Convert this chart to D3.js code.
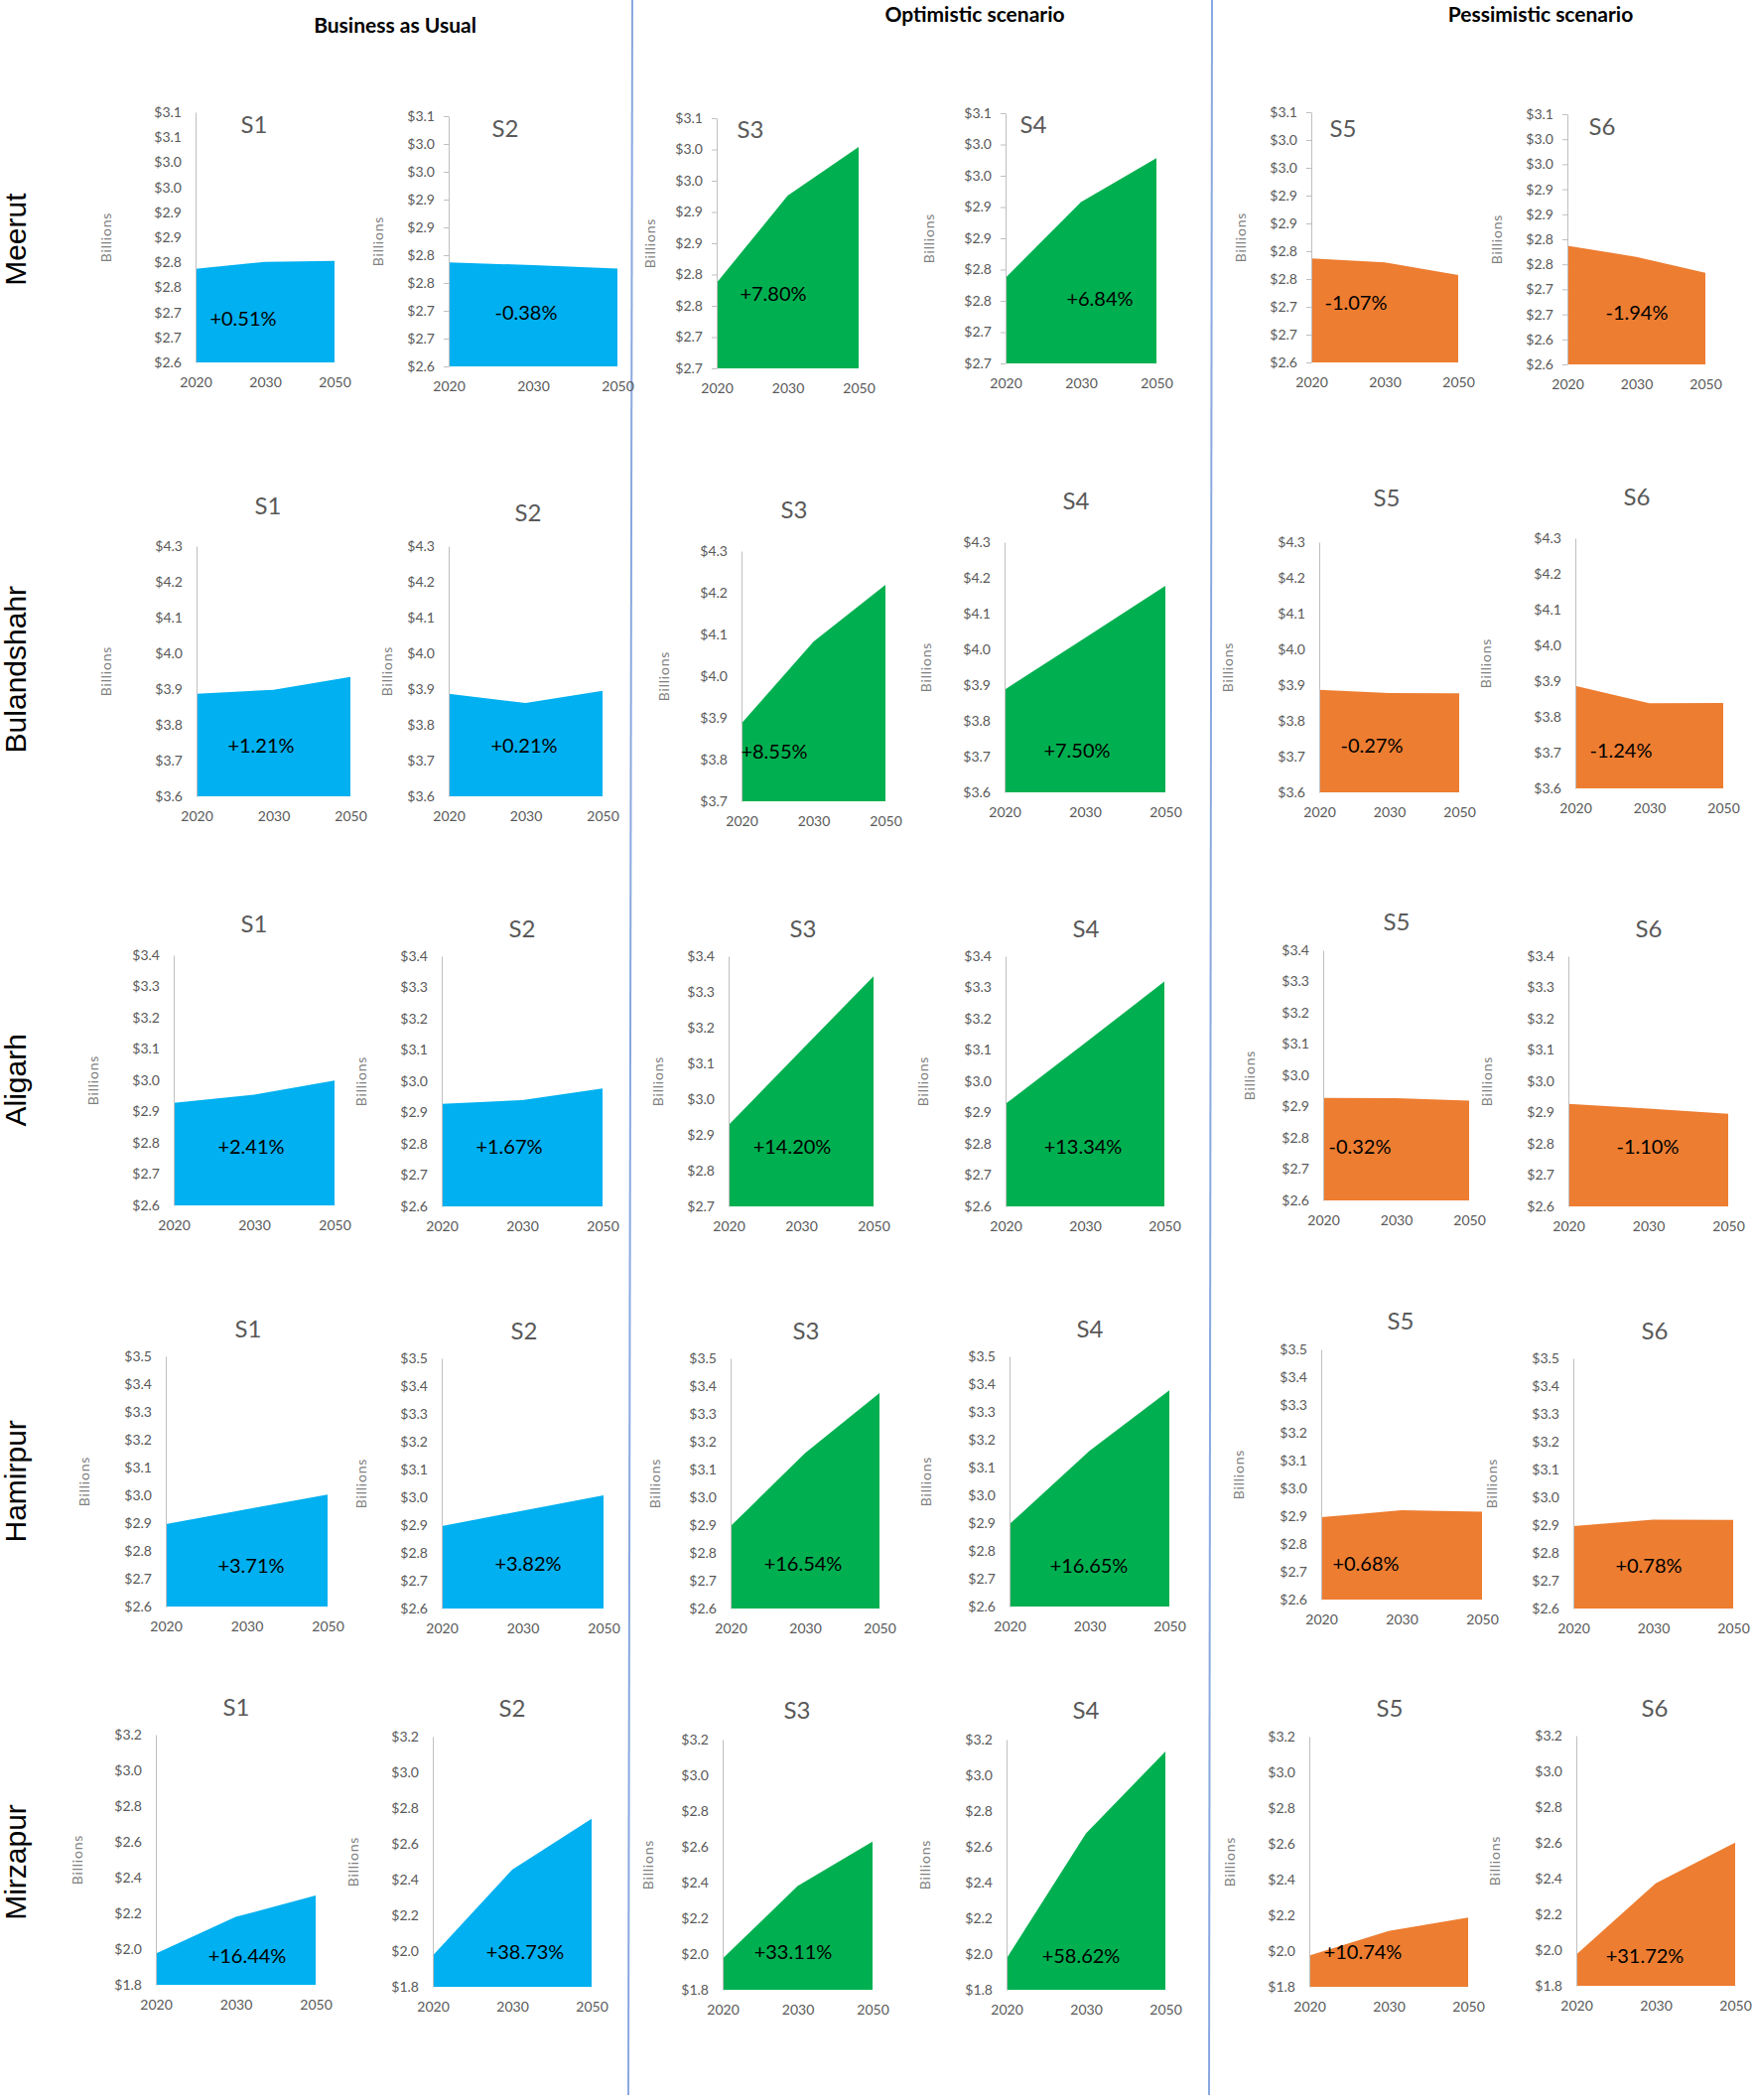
<!DOCTYPE html>
<html>
<head>
<meta charset="utf-8">
<script src="https://cdn.jsdelivr.net/npm/d3@7"></script>
<style>
  body { margin: 0; background: #fff; }
  svg { display: block; }
</style>
</head>
<body>
<div id="chart"></div>
<script>
// ---- data ----
const cities = ["Meerut", "Bulandshahr", "Aligarh", "Hamirpur", "Mirzapur"];
const scenarios = ["S1", "S2", "S3", "S4", "S5", "S6"];
const years = ["2020", "2030", "2050"];
const groupTitles = ["Business as Usual", "Optimistic scenario", "Pessimistic scenario"];

// value in billion $, per scenario S1..S6, each [2020, 2030, 2050]
const meerutValues = [[2.787, 2.801, 2.803], [2.787, 2.782, 2.776], [2.787, 2.926, 3.004],
                      [2.787, 2.908, 2.978], [2.787, 2.780, 2.757], [2.787, 2.765, 2.733]];
const bulandshahrValues = [[3.887, 3.898, 3.934], [3.887, 3.861, 3.895], [3.887, 4.083, 4.219],
                           [3.887, 4.032, 4.178], [3.887, 3.878, 3.877], [3.887, 3.838, 3.839]];
const aligarhValues = [[2.928, 2.954, 2.999], [2.928, 2.940, 2.977], [2.928, 3.136, 3.344],
                       [2.928, 3.122, 3.319], [2.928, 2.927, 2.919], [2.928, 2.913, 2.896]];
const hamirpurValues = [[2.896, 2.950, 3.003], [2.896, 2.952, 3.007], [2.896, 3.159, 3.375],
                        [2.896, 3.160, 3.378], [2.896, 2.921, 2.916], [2.896, 2.920, 2.919]];
const mirzapurValues = [[1.975, 2.180, 2.300], [1.975, 2.456, 2.740], [1.975, 2.380, 2.629],
                        [1.975, 2.675, 3.133], [1.975, 2.113, 2.187], [1.975, 2.374, 2.601]];

// change 2020 -> 2050
const meerutPct = ["+0.51%", "-0.38%", "+7.80%", "+6.84%", "-1.07%", "-1.94%"];
const bulandshahrPct = ["+1.21%", "+0.21%", "+8.55%", "+7.50%", "-0.27%", "-1.24%"];
const aligarhPct = ["+2.41%", "+1.67%", "+14.20%", "+13.34%", "-0.32%", "-1.10%"];
const hamirpurPct = ["+3.71%", "+3.82%", "+16.54%", "+16.65%", "+0.68%", "+0.78%"];
const mirzapurPct = ["+16.44%", "+38.73%", "+33.11%", "+58.62%", "+10.74%", "+31.72%"];

// y tick labels (Excel rounds to one decimal, so some repeat)
const tickSteps = [0.05, 0.1, 0.1, 0.1, 0.2];
const meerutTickStart = [2.60, 2.60, 2.65, 2.65, 2.60, 2.55];
const meerutTickLabels = [
  ["$2.6", "$2.7", "$2.7", "$2.8", "$2.8", "$2.9", "$2.9", "$3.0", "$3.0", "$3.1", "$3.1"],
  ["$2.6", "$2.7", "$2.7", "$2.8", "$2.8", "$2.9", "$2.9", "$3.0", "$3.0", "$3.1"],
  ["$2.7", "$2.7", "$2.8", "$2.8", "$2.9", "$2.9", "$3.0", "$3.0", "$3.1"],
  ["$2.7", "$2.7", "$2.8", "$2.8", "$2.9", "$2.9", "$3.0", "$3.0", "$3.1"],
  ["$2.6", "$2.7", "$2.7", "$2.8", "$2.8", "$2.9", "$2.9", "$3.0", "$3.0", "$3.1"],
  ["$2.6", "$2.6", "$2.7", "$2.7", "$2.8", "$2.8", "$2.9", "$2.9", "$3.0", "$3.0", "$3.1"]
];
const ticks36to43 = ["$3.6", "$3.7", "$3.8", "$3.9", "$4.0", "$4.1", "$4.2", "$4.3"];
const ticks37to43 = ["$3.7", "$3.8", "$3.9", "$4.0", "$4.1", "$4.2", "$4.3"];
const bulandshahrTickStart = [3.6, 3.6, 3.7, 3.6, 3.6, 3.6];
const bulandshahrTickLabels = [ticks36to43, ticks36to43, ticks37to43, ticks36to43, ticks36to43, ticks36to43];
const ticks26to34 = ["$2.6", "$2.7", "$2.8", "$2.9", "$3.0", "$3.1", "$3.2", "$3.3", "$3.4"];
const ticks27to34 = ["$2.7", "$2.8", "$2.9", "$3.0", "$3.1", "$3.2", "$3.3", "$3.4"];
const aligarhTickStart = [2.6, 2.6, 2.7, 2.6, 2.6, 2.6];
const aligarhTickLabels = [ticks26to34, ticks26to34, ticks27to34, ticks26to34, ticks26to34, ticks26to34];
const ticks26to35 = ["$2.6", "$2.7", "$2.8", "$2.9", "$3.0", "$3.1", "$3.2", "$3.3", "$3.4", "$3.5"];
const hamirpurTickStart = [2.6, 2.6, 2.6, 2.6, 2.6, 2.6];
const hamirpurTickLabels = [ticks26to35, ticks26to35, ticks26to35, ticks26to35, ticks26to35, ticks26to35];
const ticks18to32 = ["$1.8", "$2.0", "$2.2", "$2.4", "$2.6", "$2.8", "$3.0", "$3.2"];
const mirzapurTickStart = [1.8, 1.8, 1.8, 1.8, 1.8, 1.8];
const mirzapurTickLabels = [ticks18to32, ticks18to32, ticks18to32, ticks18to32, ticks18to32, ticks18to32];

const values = [meerutValues, bulandshahrValues, aligarhValues, hamirpurValues, mirzapurValues];
const pctLabels = [meerutPct, bulandshahrPct, aligarhPct, hamirpurPct, mirzapurPct];
const tickStarts = [meerutTickStart, bulandshahrTickStart, aligarhTickStart, hamirpurTickStart, mirzapurTickStart];
const tickLabels = [meerutTickLabels, bulandshahrTickLabels, aligarhTickLabels, hamirpurTickLabels, mirzapurTickLabels];

// ---- layout / style ----
const width = 1768;
const height = 2115;
const plotH = 252;
const groupColors = ["#00b0f0", "#00b050", "#ed7d31"];
const dividers = [[637, 633], [1221, 1218]]; // [top x, bottom x], the lines lean slightly
const headerPos = [[398, 28], [982, 17], [1552, 17]];

// per panel: [axisX, rightX, top, titleX, titleY, pctX, pctY, billionsX]
const layout = [
  [[197, 337, 113, 256, 128, 245, 323, 108], [452, 622, 117, 509, 132, 530, 317, 382],
   [722, 865, 119, 756, 133, 779, 298, 656], [1013, 1165, 114, 1041, 128, 1108, 303, 937],
   [1321, 1469, 113, 1353, 132, 1366, 307, 1251], [1579, 1718, 115, 1614, 130, 1649, 317, 1509]],
  [[198, 353, 550, 270, 512, 263, 753, 108], [452, 607, 550, 532, 519, 528, 753, 391],
   [747, 892, 555, 800, 516, 780, 759, 670], [1012, 1174, 546, 1084, 507, 1085, 758, 934],
   [1329, 1470, 546, 1397, 504, 1382, 753, 1238], [1587, 1736, 542, 1649, 503, 1633, 758, 1498]],
  [[175, 337, 962, 256, 933, 253, 1157, 95], [445, 607, 963, 526, 938, 513, 1157, 365],
   [734, 880, 963, 809, 938, 798, 1157, 664], [1013, 1173, 963, 1094, 938, 1091, 1157, 931],
   [1333, 1480, 957, 1407, 931, 1370, 1157, 1260], [1580, 1741, 963, 1661, 938, 1660, 1157, 1499]],
  [[167, 330, 1366, 250, 1341, 253, 1579, 86], [445, 608, 1368, 528, 1343, 532, 1577, 365],
   [736, 886, 1368, 812, 1343, 809, 1577, 661], [1017, 1178, 1366, 1098, 1341, 1097, 1579, 934],
   [1331, 1493, 1359, 1411, 1333, 1376, 1577, 1249], [1585, 1746, 1368, 1667, 1343, 1661, 1579, 1504]],
  [[157, 318, 1747, 238, 1722, 249, 1972, 79], [436, 596, 1749, 516, 1723, 529, 1968, 357],
   [728, 879, 1752, 803, 1725, 799, 1968, 654], [1014, 1174, 1752, 1094, 1725, 1089, 1972, 933],
   [1319, 1479, 1749, 1400, 1723, 1373, 1968, 1240], [1588, 1748, 1748, 1667, 1723, 1657, 1972, 1507]]
];

const svg = d3.select("#chart")
  .append("svg")
  .attr("width", width)
  .attr("height", height)
  .attr("viewBox", [0, 0, width, height])
  .style("font-family", "Lato, 'Open Sans', sans-serif");

// vertical separators between the three scenario groups
svg.selectAll(".divider")
  .data(dividers)
  .join("line")
  .attr("class", "divider")
  .attr("x1", d => d[0]).attr("x2", d => d[1])
  .attr("y1", 0).attr("y2", 2110)
  .attr("stroke", "#8aa8e0")
  .attr("stroke-width", 2);

// group headers
svg.selectAll(".header")
  .data(groupTitles)
  .join("text")
  .attr("class", "header")
  .attr("x", (d, i) => headerPos[i][0])
  .attr("y", (d, i) => headerPos[i][1])
  .attr("text-anchor", "middle")
  .attr("dominant-baseline", "middle")
  .attr("font-size", 21)
  .attr("font-weight", "bold")
  .attr("fill", "#000")
  .text(d => d);

cities.forEach((city, r) => {

  // city name, rotated, centred on the row
  const rowMid = d3.mean(layout[r], p => p[2]) + plotH / 2;
  svg.append("text")
    .attr("transform", `translate(18, ${rowMid}) rotate(-90)`)
    .attr("text-anchor", "middle")
    .attr("dominant-baseline", "middle")
    .attr("font-family", "'Liberation Sans', Arial, sans-serif")
    .attr("font-size", 30)
    .attr("fill", "#000")
    .text(city);

  scenarios.forEach((scen, c) => {
    const [x0, x1, top, tx, ty, px, py, bx] = layout[r][c];
    const labels = tickLabels[r][c];
    const tickValues = labels.map((_, i) => +(tickStarts[r][c] + i * tickSteps[r]).toFixed(3));

    const xScale = d3.scalePoint()
      .domain(years)
      .range([x0, x1]);

    const yScale = d3.scaleLinear()
      .domain([tickValues[0], tickValues[tickValues.length - 1]])
      .range([top + plotH, top]);

    const g = svg.append("g").attr("class", `panel-${r}-${c}`);

    const areaGen = d3.area()
      .x((d, i) => xScale(years[i]))
      .y0(yScale.range()[0])
      .y1(d => yScale(d));

    g.append("path")
      .datum(values[r][c])
      .attr("d", areaGen)
      .attr("fill", groupColors[Math.floor(c / 2)]);

    // y axis: Meerut panels S2..S6 have small tick marks, the rest none
    const hasTicks = r === 0 && c > 0;
    const leftAxis = d3.axisLeft(yScale)
      .tickValues(tickValues)
      .tickFormat((d, i) => labels[i])
      .tickSize(hasTicks ? 5 : 0)
      .tickSizeOuter(0)
      .tickPadding(hasTicks ? 9 : 14);

    const ya = g.append("g")
      .attr("transform", `translate(${x0}, 0)`)
      .call(leftAxis);
    ya.select(".domain").attr("stroke", "#bfbfbf");
    ya.selectAll(".tick line").attr("stroke", "#bfbfbf");
    ya.selectAll(".tick text")
      .attr("font-family", "Lato, sans-serif")
      .attr("font-size", 14)
      .attr("fill", "#595959");

    const bottomAxis = d3.axisBottom(xScale)
      .tickSize(0)
      .tickPadding(15);

    const xa = g.append("g")
      .attr("transform", `translate(0, ${top + plotH})`)
      .call(bottomAxis);
    xa.select(".domain").remove();
    xa.selectAll(".tick text")
      .attr("font-family", "Lato, sans-serif")
      .attr("font-size", 14)
      .attr("fill", "#595959");

    // "Billions" axis title
    g.append("text")
      .attr("transform", `translate(${bx}, ${top + plotH / 2}) rotate(-90)`)
      .attr("text-anchor", "middle")
      .attr("dominant-baseline", "middle")
      .attr("font-size", 14)
      .attr("letter-spacing", 0.8)
      .attr("fill", "#7f7f7f")
      .text("Billions");

    // panel title
    g.append("text")
      .attr("x", tx)
      .attr("y", ty)
      .attr("text-anchor", "middle")
      .attr("dominant-baseline", "middle")
      .attr("font-size", 24)
      .attr("fill", "#595959")
      .text(scen);

    // percentage change
    g.append("text")
      .attr("x", px)
      .attr("y", py)
      .attr("text-anchor", "middle")
      .attr("dominant-baseline", "middle")
      .attr("font-size", 20)
      .attr("fill", "#000")
      .text(pctLabels[r][c]);
  });
});
</script>
</body>
</html>
